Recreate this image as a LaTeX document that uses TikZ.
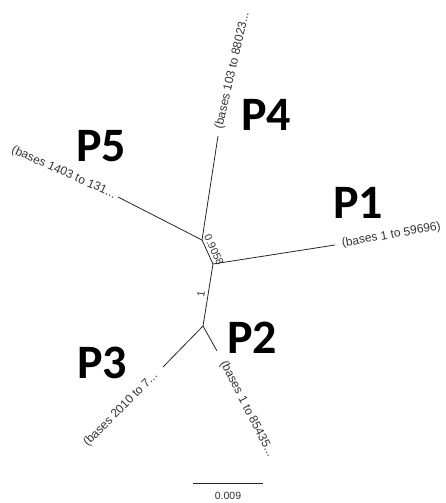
\documentclass[tikz,border=0pt]{standalone}
\usepackage{fontspec}
\setmainfont{Liberation Sans}
\newfontfamily\groupfont{Carlito}
\usetikzlibrary{calc}
\begin{document}
\begin{tikzpicture}[x=1pt,y=-1pt,
  branch/.style={draw=black!85, line width=0.8pt},
  tiplabel/.style={font=\fontsize{12}{12}\selectfont, text=black!80, inner sep=0pt},
  support/.style={font=\fontsize{10.5}{10.5}\selectfont, text=black!80, inner sep=0pt},
  groupname/.style={font=\groupfont\bfseries\fontsize{48}{48}\selectfont, inner sep=0pt}]
\useasboundingbox (0,0) rectangle (446,503);

% internal nodes of the unrooted tree
\coordinate (A) at (202,240);
\coordinate (B) at (213,264);
\coordinate (C) at (203,326);
% leaves
\coordinate (t4) at (218,136);
\coordinate (t5) at (118,197);
\coordinate (t1) at (335,245);
\coordinate (t3) at (163,367);
\coordinate (t2) at (217,351);

% branches
\draw[branch] (A) -- (t4);
\draw[branch] (A) -- (t5);
\draw[branch] (A) -- (B);
\draw[branch] (B) -- (t1);
\draw[branch] (B) -- (C);
\draw[branch] (C) -- (t3);
\draw[branch] (C) -- (t2);

% leaf labels
\node[tiplabel, rotate=77, anchor=west] (l4) at ($(t4)!-7pt!(A)$) {(bases 103 to 88023...};
\node[tiplabel, rotate=-24, anchor=east] (l5) at ($(t5)!-3pt!(A)$) {(bases 1403 to 131...};
\node[tiplabel, rotate=10, anchor=west] (l1) at ($(t1)!-7pt!(B)$) {(bases 1 to 59696)};
\node[tiplabel, rotate=45, anchor=east] (l3) at ($(t3)!-10pt!(C)$) {(bases 2010 to 7...};
\node[tiplabel, rotate=-63, anchor=west] (l2) at ($(t2)!-12pt!(C)$) {(bases 1 to 85435...};

% branch support values
\node[support, rotate=-65] (s1) at (214,250) {0.9058};
\node[support, rotate=81] (s2) at (201,294) {1};

% group names
\node[groupname] (P4) at (266,115) {P4};
\node[groupname] (P5) at (101,146) {P5};
\node[groupname] (P1) at (358,203) {P1};
\node[groupname] (P3) at (102,363) {P3};
\node[groupname] (P2) at (252,338) {P2};

% scale bar
\coordinate (sb1) at (193,483);
\coordinate (sb2) at (263,483);
\draw[branch] (sb1) -- (sb2);
\node[support, anchor=north] (sbl) at ($(sb1)!0.5!(sb2)+(0,9)$) {0.009};
\end{tikzpicture}
\end{document}
